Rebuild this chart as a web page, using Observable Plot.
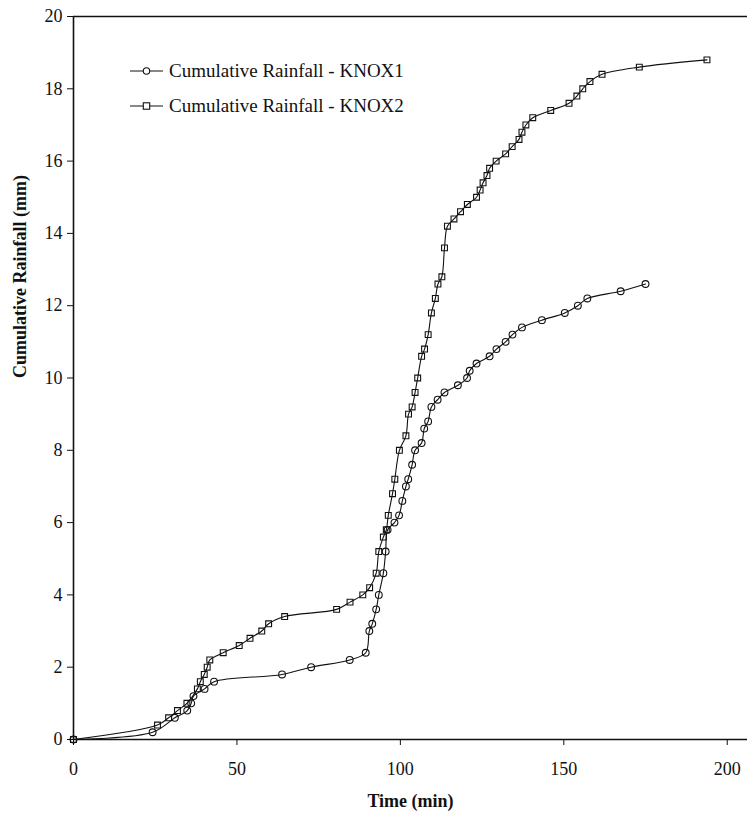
<!DOCTYPE html>
<html>
<head>
<meta charset="utf-8">
<script src="https://cdn.jsdelivr.net/npm/d3@7"></script>
<script src="https://cdn.jsdelivr.net/npm/@observablehq/plot@0.6"></script>
<style>
  html, body { margin: 0; padding: 0; background: #fff; }
  #wrap { position: relative; width: 747px; height: 815px; }
  #legend { position: absolute; left: 0; top: 0; }
  svg text { font-family: 'Liberation Serif', 'Times New Roman', serif; }
</style>
</head>
<body>
<div id="wrap"></div>
<script>
// KNOX1 (circles)
const knox1Time = [0, 24.2, 31, 34.8, 36, 36.7, 40.1, 43, 63.8, 72.7, 84.5, 89.4, 90.5, 91.4, 92.6, 93.4, 94.8, 95.5, 96.1, 98.2, 99.6, 100.6, 101.7, 102.4, 103.6, 104.5, 106.5, 107.3, 108.5, 109.5, 111.4, 113.5, 117.6, 120.4, 121.2, 123.3, 127.3, 129.4, 132.2, 134.3, 137.2, 143.3, 150.3, 154.3, 157.2, 167.4, 175.0];
const knox1Rain = [0, 0.2, 0.6, 0.8, 1.0, 1.2, 1.4, 1.6, 1.8, 2.0, 2.2, 2.4, 3.0, 3.2, 3.6, 4.0, 4.6, 5.2, 5.8, 6.0, 6.2, 6.6, 7.0, 7.2, 7.6, 8.0, 8.2, 8.6, 8.8, 9.2, 9.4, 9.6, 9.8, 10.0, 10.2, 10.4, 10.6, 10.8, 11.0, 11.2, 11.4, 11.6, 11.8, 12.0, 12.2, 12.4, 12.6];
// KNOX2 (squares)
const knox2Time = [0, 25.7, 29.1, 31.8, 34.7, 37.9, 38.8, 40, 40.9, 41.7, 45.8, 50.7, 54, 57.6, 59.7, 64.6, 80.5, 84.6, 88.5, 90.6, 92.6, 93.4, 94.8, 95.7, 96.3, 97.6, 98.3, 99.7, 101.7, 102.5, 103.6, 104.5, 105.3, 106.5, 107.4, 108.5, 109.5, 110.7, 111.5, 112.7, 113.5, 114.4, 116.4, 118.4, 120.5, 123.3, 124.4, 125.3, 126.5, 127.3, 129.3, 132.2, 134.2, 136.3, 137.2, 138.4, 140.5, 146, 151.6, 154, 155.8, 158, 161.7, 173.1, 193.8];
const knox2Rain = [0, 0.4, 0.6, 0.8, 1.0, 1.4, 1.6, 1.8, 2.0, 2.2, 2.4, 2.6, 2.8, 3.0, 3.2, 3.4, 3.6, 3.8, 4.0, 4.2, 4.6, 5.2, 5.6, 5.8, 6.2, 6.8, 7.2, 8.0, 8.4, 9.0, 9.2, 9.6, 10.0, 10.6, 10.8, 11.2, 11.8, 12.2, 12.6, 12.8, 13.6, 14.2, 14.4, 14.6, 14.8, 15.0, 15.2, 15.4, 15.6, 15.8, 16.0, 16.2, 16.4, 16.6, 16.8, 17.0, 17.2, 17.4, 17.6, 17.8, 18.0, 18.2, 18.4, 18.6, 18.8];

const seriesNames = ["Cumulative Rainfall - KNOX1", "Cumulative Rainfall - KNOX2"];
const xTicks = [0, 50, 100, 150, 200];
const yTicks = [0, 2, 4, 6, 8, 10, 12, 14, 16, 18, 20];
const xTitle = "Time (min)";
const yTitle = "Cumulative Rainfall (mm)";

const k1 = knox1Time.map((t, i) => ({t, r: knox1Rain[i]}));
const k2 = knox2Time.map((t, i) => ({t, r: knox2Rain[i]}));

const font = "'Liberation Serif', 'Times New Roman', serif";
const ink = "#111";

const chart = Plot.plot({
  width: 747,
  height: 815,
  marginLeft: 73,
  marginRight: 0,
  marginTop: 16,
  marginBottom: 76,
  style: {fontFamily: font, fontSize: "18px", color: ink, background: "#fff"},
  x: {domain: [0, 206.2]},
  y: {domain: [0, 20]},
  marks: [
    Plot.axisX({ticks: xTicks, tickSize: 6, tickPadding: 17, fontSize: 18, label: null, stroke: ink}),
    Plot.axisY({ticks: yTicks, tickSize: 6, tickPadding: 5, fontSize: 18, label: null, stroke: ink}),
    Plot.ruleY([0], {stroke: ink, strokeWidth: 1.6}),
    Plot.ruleY([20], {stroke: ink, strokeWidth: 1.3}),
    Plot.ruleX([0], {stroke: ink, strokeWidth: 1.6}),
    Plot.line(k1, {x: "t", y: "r", curve: "catmull-rom", stroke: ink, strokeWidth: 1.1}),
    Plot.line(k2, {x: "t", y: "r", curve: "catmull-rom", stroke: ink, strokeWidth: 1.1}),
    Plot.dot(k1, {x: "t", y: "r", symbol: "circle", r: 3.4, stroke: ink, strokeWidth: 1.1, fill: "none"}),
    Plot.dot(k2, {x: "t", y: "r", symbol: "square", r: 3.3, stroke: ink, strokeWidth: 1.1, fill: "none"}),
    Plot.text([xTitle], {frameAnchor: "bottom", dy: 67, text: d => d, fontWeight: "bold", fontSize: 18, fill: ink}),
    Plot.text([yTitle], {frameAnchor: "left", dx: -53, rotate: -90, text: d => d, fontWeight: "bold", fontSize: 18, fill: ink})
  ]
});

const wrap = document.getElementById("wrap");
wrap.appendChild(chart);

// Legend overlay
const ns = "http://www.w3.org/2000/svg";
const leg = document.createElementNS(ns, "svg");
leg.setAttribute("id", "legend");
leg.setAttribute("width", 420);
leg.setAttribute("height", 130);
const rows = [71, 106];
seriesNames.forEach((name, i) => {
  const y = rows[i];
  const ln = document.createElementNS(ns, "line");
  ln.setAttribute("x1", 130); ln.setAttribute("x2", 163);
  ln.setAttribute("y1", y); ln.setAttribute("y2", y);
  ln.setAttribute("stroke", ink); ln.setAttribute("stroke-width", 1);
  leg.appendChild(ln);
  if (i === 0) {
    const c = document.createElementNS(ns, "circle");
    c.setAttribute("cx", 146.5); c.setAttribute("cy", y); c.setAttribute("r", 3.2);
    c.setAttribute("fill", "#fff"); c.setAttribute("stroke", ink); c.setAttribute("stroke-width", 1.1);
    leg.appendChild(c);
  } else {
    const s = document.createElementNS(ns, "rect");
    s.setAttribute("x", 143.3); s.setAttribute("y", y - 3.2); s.setAttribute("width", 6.4); s.setAttribute("height", 6.4);
    s.setAttribute("fill", "#fff"); s.setAttribute("stroke", ink); s.setAttribute("stroke-width", 1.1);
    leg.appendChild(s);
  }
  const t = document.createElementNS(ns, "text");
  t.setAttribute("x", 169); t.setAttribute("y", y + 6);
  t.setAttribute("font-size", 19);
  t.setAttribute("font-family", font);
  t.setAttribute("fill", ink);
  t.textContent = name;
  leg.appendChild(t);
});
wrap.appendChild(leg);
</script>
</body>
</html>
